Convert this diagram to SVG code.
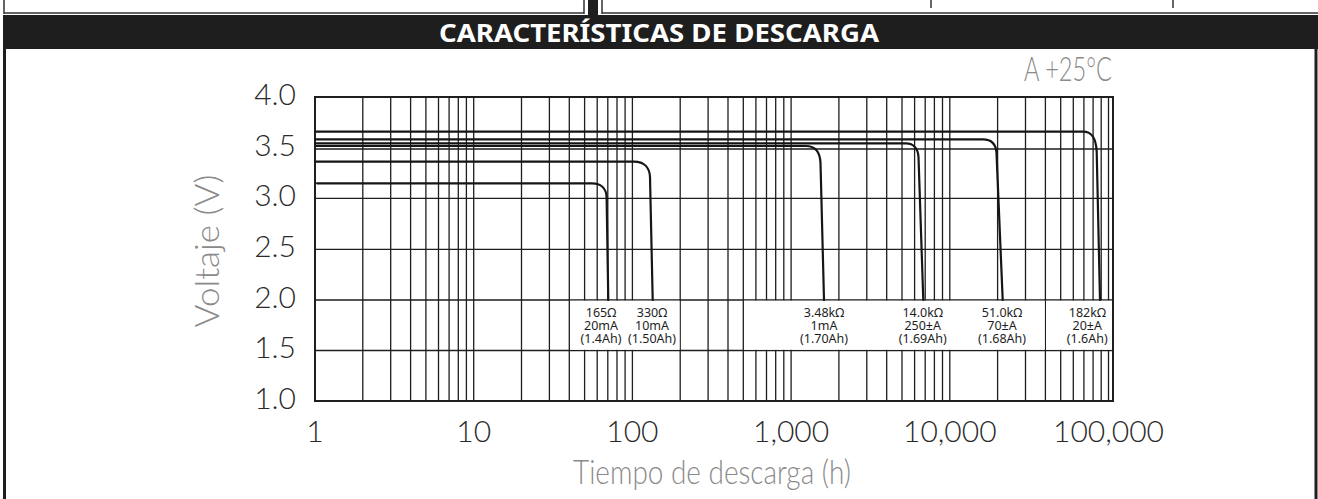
<svg xmlns="http://www.w3.org/2000/svg" width="1318" height="499" viewBox="0 0 1318 499">
<style>
.grid{stroke:#1e1e1e;stroke-width:1.3;fill:none}
.frame{stroke:#1e1e1e;stroke-width:2;fill:none}
.curve{stroke:#151515;stroke-width:2.2;fill:none;stroke-linecap:round;stroke-linejoin:round}
.tick{font-family:"Lato","Open Sans","Liberation Sans",sans-serif;font-weight:300;font-size:30px;fill:#2a2a2a}
.axis{font-family:"Lato","Open Sans","Liberation Sans",sans-serif;font-weight:300;font-size:33px;fill:#8a8a8a}
.lbl{font-family:"Noto Sans","Liberation Sans",sans-serif;font-size:12.5px;fill:#1e1e1e;text-anchor:middle}
.title{font-family:"Noto Sans","Open Sans","Liberation Sans",sans-serif;font-weight:700;font-size:25px;fill:#ffffff;text-anchor:middle}
.mask{fill:#ffffff}
</style>
<rect x="0" y="0" width="1318" height="499" fill="#ffffff"/>
<g id="top-strip">
<path d="M4,0 V14 M4,13 H584 M584,0 V14 M602,0 V14 M602,13 H1318 M931,0 V8 M1173,0 V8" stroke="#333" stroke-width="1.5" fill="none"/>
<rect x="588" y="0" width="10" height="15" fill="#1e1e1e"/>
</g>
<g id="header">
<rect x="3" y="15" width="1315" height="34" fill="#1e1e1e"/>
<text class="title" x="659" y="41.5" textLength="440" lengthAdjust="spacingAndGlyphs">CARACTERÍSTICAS DE DESCARGA</text>
</g>
<g id="outer-frame">
<path d="M4.5,49 V499 M1316,49 V499" stroke="#1e1e1e" stroke-width="3" fill="none"/>
</g>
<g id="grid">
<path class="grid" d="M315,149 H1113 M315,198.4 H1113 M315,249.3 H1113 M315,300 H1113 M315,350.5 H1113"/>
<path class="grid" d="M362.8,97 V401 M390.7,97 V401 M410.6,97 V401 M425.9,97 V401 M438.5,97 V401 M449.1,97 V401 M458.3,97 V401 M466.4,97 V401 M473.7,97 V401
M521.5,97 V401 M549.4,97 V401 M569.3,97 V401 M584.6,97 V401 M597.2,97 V401 M607.8,97 V401 M617,97 V401 M625.1,97 V401 M632.4,97 V401
M680.2,97 V401 M708.1,97 V401 M728,97 V401 M743.3,97 V401 M755.9,97 V401 M766.5,97 V401 M775.7,97 V401 M783.8,97 V401 M791.1,97 V401
M838.9,97 V401 M866.8,97 V401 M886.7,97 V401 M902,97 V401 M914.6,97 V401 M925.2,97 V401 M934.4,97 V401 M942.5,97 V401 M949.8,97 V401
M997.6,97 V401 M1025.5,97 V401 M1045.4,97 V401 M1060.7,97 V401 M1073.3,97 V401 M1083.9,97 V401 M1093.1,97 V401 M1101.2,97 V401 M1108.5,97 V401"/>
<rect class="mask" x="570" y="300.7" width="109.5" height="49.1"/>
<rect class="mask" x="744" y="300.7" width="300.7" height="49.1"/>
<rect class="mask" x="1046.1" y="300.7" width="66.2" height="49.1"/>
<rect class="frame" x="315" y="97" width="798" height="304"/>
</g>
<g id="curves">
<path class="curve" d="M317,183.3 H592 C601,183.3 606.3,188.5 606.6,197 L608.3,300"/>
<path class="curve" d="M316,161.7 H634 C644,161.7 649.6,167.5 650,177 L652.7,300"/>
<path class="curve" d="M316,146 H806 C815,146 820,152 820.5,163 L824,300"/>
<path class="curve" d="M316,143.3 H906 C914,143.3 918,149 918.5,157 L923.3,300"/>
<path class="curve" d="M316,139.3 H983 C992,139.3 996,145 996.5,153 L1002.7,300"/>
<path class="curve" d="M316,131.7 H1083 C1092,131.7 1096,138 1096.7,151.7 L1100,300"/>
</g>
<g id="curve-labels">
<text class="lbl" y="317"><tspan x="601">165Ω</tspan><tspan x="601" dy="13">20mA</tspan><tspan x="601" dy="13">(1.4Ah)</tspan></text>
<text class="lbl" y="317"><tspan x="652">330Ω</tspan><tspan x="652" dy="13">10mA</tspan><tspan x="652" dy="13">(1.50Ah)</tspan></text>
<text class="lbl" y="317"><tspan x="824">3.48kΩ</tspan><tspan x="824" dy="13">1mA</tspan><tspan x="824" dy="13">(1.70Ah)</tspan></text>
<text class="lbl" y="317"><tspan x="922.7">14.0kΩ</tspan><tspan x="922.7" dy="13">250±A</tspan><tspan x="922.7" dy="13">(1.69Ah)</tspan></text>
<text class="lbl" y="317"><tspan x="1002">51.0kΩ</tspan><tspan x="1002" dy="13">70±A</tspan><tspan x="1002" dy="13">(1.68Ah)</tspan></text>
<text class="lbl" y="317"><tspan x="1087.3">182kΩ</tspan><tspan x="1087.3" dy="13">20±A</tspan><tspan x="1087.3" dy="13">(1.6Ah)</tspan></text>
</g>
<g id="y-ticks" text-anchor="end">
<text class="tick" x="296" y="104.5">4.0</text>
<text class="tick" x="296" y="156">3.5</text>
<text class="tick" x="296" y="206">3.0</text>
<text class="tick" x="296" y="257">2.5</text>
<text class="tick" x="296" y="307.5">2.0</text>
<text class="tick" x="296" y="358">1.5</text>
<text class="tick" x="296" y="408.5">1.0</text>
</g>
<g id="x-ticks" text-anchor="middle">
<text class="tick" x="315" y="442">1</text>
<text class="tick" x="473.7" y="442">10</text>
<text class="tick" x="632.4" y="442">100</text>
<text class="tick" x="791.1" y="442">1,000</text>
<text class="tick" x="949.8" y="442">10,000</text>
<text class="tick" x="1108.5" y="442">100,000</text>
</g>
<g id="axis-titles">
<text class="axis" x="712" y="484" text-anchor="middle" textLength="278" lengthAdjust="spacingAndGlyphs">Tiempo de descarga (h)</text>
<text class="axis" transform="translate(219,251) rotate(-90)" text-anchor="middle" textLength="153" lengthAdjust="spacingAndGlyphs">Voltaje (V)</text>
<text class="axis" x="1112" y="81" text-anchor="end" font-size="28px" textLength="88" lengthAdjust="spacingAndGlyphs">A +25°C</text>
</g>
</svg>
